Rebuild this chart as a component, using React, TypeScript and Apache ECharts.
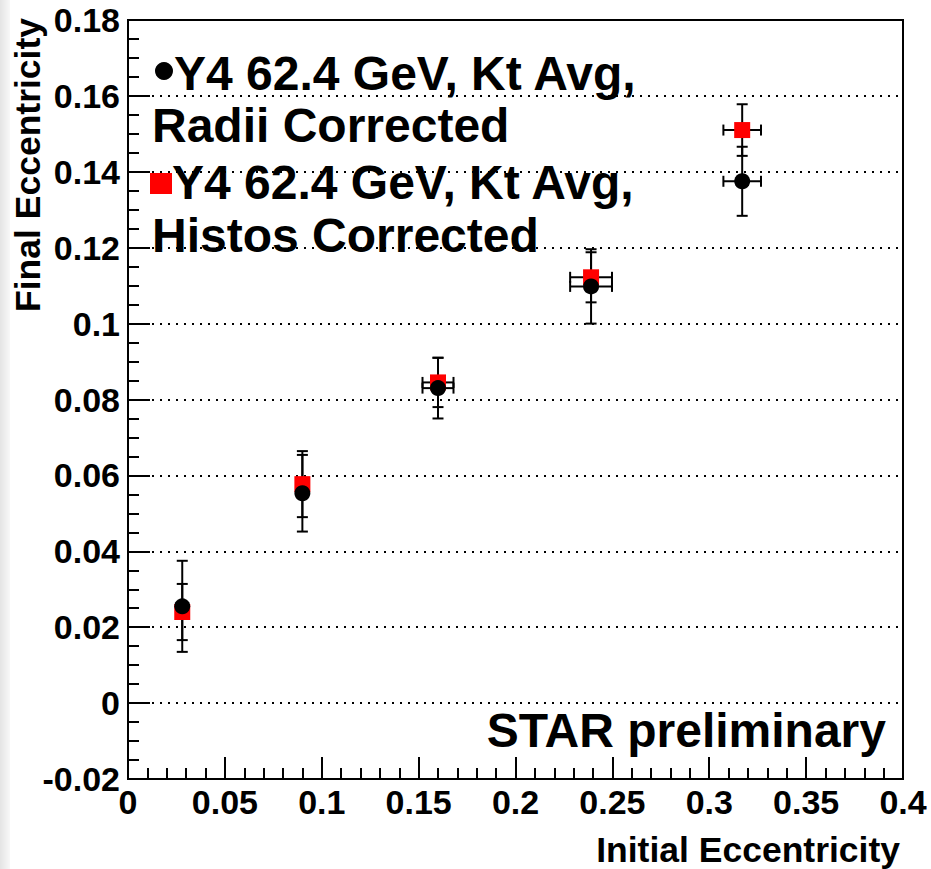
import React, { useEffect, useRef } from "react";
import * as echarts from "echarts";

const xVals = [0.028, 0.09, 0.16, 0.239, 0.317];
const radiiY = [0.0255, 0.0553, 0.083, 0.1098, 0.1375];
const radiiYErr = [0.012, 0.0101, 0.008, 0.0098, 0.0091];
const radiiXErr = [0, 0, 0.008, 0.0108, 0.0097];
const histosY = [0.024, 0.0577, 0.0845, 0.1122, 0.151];
const histosYErr = [0.0074, 0.0087, 0.0065, 0.0066, 0.0068];
const histosXErr = [0, 0, 0.008, 0.0108, 0.0097];

const legendLine1 = "Y4 62.4 GeV, Kt Avg,";
const legendRadii = "Radii Corrected";
const legendHistos = "Histos Corrected";
const xTitle = "Initial Eccentricity";
const yTitle = "Final Eccentricity";
const watermark = "STAR preliminary";

const FONT = "'Liberation Sans', Arial, Helvetica, sans-serif";

function errorBarRender(params: any, api: any) {
  const x = api.value(0);
  const y = api.value(1);
  const xe = api.value(2);
  const ye = api.value(3);
  const cap = 5.5;
  const style = { stroke: "#000", lineWidth: 2 };
  const children: any[] = [];
  if (ye > 0) {
    const t = api.coord([x, y + ye]);
    const b = api.coord([x, y - ye]);
    children.push({ type: "line", shape: { x1: t[0], y1: t[1], x2: b[0], y2: b[1] }, style });
    children.push({ type: "line", shape: { x1: t[0] - cap, y1: t[1], x2: t[0] + cap, y2: t[1] }, style });
    children.push({ type: "line", shape: { x1: b[0] - cap, y1: b[1], x2: b[0] + cap, y2: b[1] }, style });
  }
  if (xe > 0) {
    const l = api.coord([x - xe, y]);
    const r = api.coord([x + xe, y]);
    children.push({ type: "line", shape: { x1: l[0], y1: l[1], x2: r[0], y2: r[1] }, style });
    children.push({ type: "line", shape: { x1: l[0], y1: l[1] - cap, x2: l[0], y2: l[1] + cap }, style });
    children.push({ type: "line", shape: { x1: r[0], y1: r[1] - cap, x2: r[0], y2: r[1] + cap }, style });
  }
  return { type: "group", children };
}

export default function App() {
  const ref = useRef<HTMLDivElement>(null);
  useEffect(() => {
    if (!ref.current) return;
    const chart = echarts.init(ref.current, undefined, { renderer: "svg" });
    const radiiErr = xVals.map((x, i) => [x, radiiY[i], radiiXErr[i], radiiYErr[i]]);
    const histosErr = xVals.map((x, i) => [x, histosY[i], histosXErr[i], histosYErr[i]]);
    const tickFont = { color: "#000", fontFamily: FONT, fontWeight: "bold" as const, fontSize: 34 };
    const legendText = (text: string, x: number, y: number, align = "left") => ({
      type: "text",
      x,
      y,
      z: 10,
      style: {
        text,
        fill: "#000",
        font: `bold 48px ${FONT}`,
        textAlign: align,
        textVerticalAlign: "middle",
      },
    });
    chart.setOption({
      animation: false,
      backgroundColor: "#fff",
      grid: {
        left: 128,
        right: 28,
        top: 20,
        bottom: 90,
        show: true,
        borderColor: "#000",
        borderWidth: 2,
        backgroundColor: "transparent",
      },
      xAxis: {
        type: "value",
        min: 0,
        max: 0.4,
        interval: 0.05,
        axisLine: { show: true, onZero: false, lineStyle: { color: "#000", width: 2 } },
        axisTick: { show: true, inside: true, length: 22, lineStyle: { color: "#000", width: 2 } },
        minorTick: { show: true, splitNumber: 5, length: 11, lineStyle: { color: "#000", width: 2 } },
        splitLine: { show: false },
        axisLabel: { ...tickFont, margin: 6, formatter: (v: number) => String(parseFloat(v.toFixed(2))) },
      },
      yAxis: {
        type: "value",
        min: -0.02,
        max: 0.18,
        interval: 0.02,
        axisLine: { show: true, onZero: false, lineStyle: { color: "#000", width: 2 } },
        axisTick: { show: true, inside: true, length: 22, lineStyle: { color: "#000", width: 2 } },
        minorTick: { show: true, splitNumber: 4, length: 11, lineStyle: { color: "#000", width: 2 } },
        splitLine: { show: true, lineStyle: { color: "#000", width: 2, type: [2, 6] } },
        axisLabel: { ...tickFont, margin: 8, formatter: (v: number) => String(parseFloat(v.toFixed(2))) },
      },
      series: [
        {
          type: "custom",
          name: "histosErr",
          renderItem: errorBarRender,
          data: histosErr,
          encode: { x: 0, y: 1 },
          z: 2,
        },
        {
          type: "custom",
          name: "radiiErr",
          renderItem: errorBarRender,
          data: radiiErr,
          encode: { x: 0, y: 1 },
          z: 2,
        },
        {
          type: "scatter",
          name: "Histos Corrected",
          symbol: "rect",
          symbolSize: 16,
          itemStyle: { color: "#ff0000", opacity: 1 },
          data: xVals.map((x, i) => [x, histosY[i]]),
          z: 3,
        },
        {
          type: "scatter",
          name: "Radii Corrected",
          symbol: "circle",
          symbolSize: 16,
          itemStyle: { color: "#000", opacity: 1 },
          data: xVals.map((x, i) => [x, radiiY[i]]),
          z: 4,
        },
      ],
      graphic: [
        {
          type: "rect",
          shape: { x: 0, y: 0, width: 10, height: 869 },
          style: {
            fill: new echarts.graphic.LinearGradient(0, 0, 1, 0, [
              { offset: 0, color: "#e4e4e4" },
              { offset: 1, color: "#f8f8f8" },
            ]),
          },
          z: -1,
        },
        { type: "circle", shape: { cx: 164, cy: 71, r: 9 }, style: { fill: "#000" }, z: 10 },
        legendText(legendLine1, 174, 73),
        legendText(legendRadii, 152, 125),
        { type: "rect", shape: { x: 150, y: 173, width: 22, height: 21 }, style: { fill: "#ff0000" }, z: 10 },
        legendText(legendLine1, 172, 182),
        legendText(legendHistos, 152, 235),
        legendText(watermark, 886, 730, "right"),
        {
          type: "text",
          x: 900,
          y: 850,
          style: {
            text: xTitle,
            fill: "#000",
            font: `bold 35.5px ${FONT}`,
            textAlign: "right",
            textVerticalAlign: "middle",
          },
        },
        {
          type: "text",
          x: 28,
          y: 18,
          rotation: Math.PI / 2,
          style: {
            text: yTitle,
            fill: "#000",
            font: `bold 35.5px ${FONT}`,
            textAlign: "right",
            textVerticalAlign: "middle",
          },
        },
      ],
    });
    return () => chart.dispose();
  }, []);
  return (
    <div
      ref={ref}
      style={{ position: "absolute", left: 0, top: 0, width: 931, height: 869 }}
    />
  );
}
